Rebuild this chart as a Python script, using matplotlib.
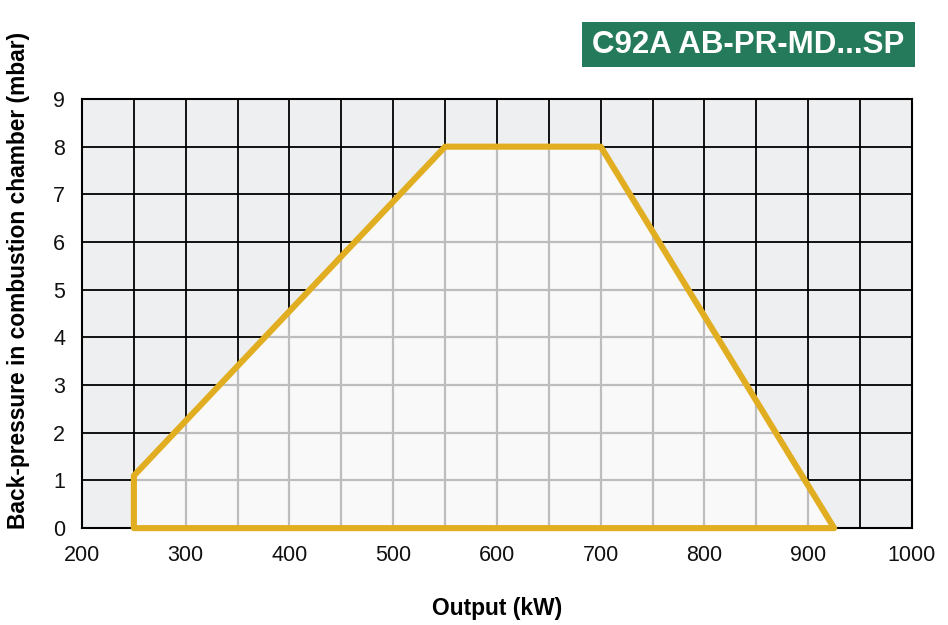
import numpy as np
import matplotlib.pyplot as plt
from matplotlib.patches import Polygon, Rectangle

plt.rcParams['font.family'] = ['Liberation Sans', 'DejaVu Sans']

# working field of the burner (kW, mbar)
output_kw = [250, 250, 550, 700, 925]
pressure_mbar = [0, 1.1, 8, 8, 0]

x_ticks = [200, 300, 400, 500, 600, 700, 800, 900, 1000]
y_ticks = [0, 1, 2, 3, 4, 5, 6, 7, 8, 9]
x_grid = np.arange(200, 1001, 50)
y_grid = np.arange(0, 10, 1)

title = "C92A AB-PR-MD...SP"

fig = plt.figure(figsize=(9.48, 6.25), dpi=100)
ax = fig.add_axes([0.0865, 0.155, 0.8755, 0.6866])
ax.set_xlim(200, 1000)
ax.set_ylim(0, 9)
ax.set_facecolor('#eeeff1')

# dark grid on the background
ax.vlines(x_grid, 0, 9, colors='black', linewidth=1.3, zorder=1)
ax.hlines(y_grid, 200, 1000, colors='black', linewidth=1.3, zorder=1)

# field fill and light grid inside it
pts = np.column_stack([output_kw, pressure_mbar])
fill = Polygon(pts, closed=True, facecolor='#f9f9f9', edgecolor='none', zorder=2)
ax.add_patch(fill)
vl = ax.vlines(x_grid, 0, 9, colors='#bdbdbd', linewidth=1.6, zorder=3)
hl = ax.hlines(y_grid, 200, 1000, colors='#bdbdbd', linewidth=1.6, zorder=3)
vl.set_clip_path(fill)
hl.set_clip_path(fill)

edge = Polygon(pts, closed=True, facecolor='none', edgecolor='#e1ad21',
               linewidth=4.4, joinstyle='round', zorder=6, clip_on=False)
ax.add_patch(edge)

ax.set_xticks(x_ticks)
ax.set_yticks(y_ticks)
ax.tick_params(length=0, labelsize=15.5, pad=12, colors='#111111')
for s in ax.spines.values():
    s.set_linewidth(1.5)
    s.set_color('black')
    s.set_zorder(5)

ax.set_xlabel("Output (kW)", fontsize=16.4, fontweight='bold')
ax.set_ylabel("Back-pressure in combustion chamber (mbar)", fontsize=16.4,
              fontweight='bold')
ax.xaxis.set_label_coords(0.5, -0.1865)
ax.yaxis.set_label_coords(-0.0771, 0.578)
ax.xaxis.label.set_va('center')
ax.yaxis.label.set_va('center')

# green title badge
fig.patches.append(Rectangle((0.614, 0.8928), 0.351, 0.072, transform=fig.transFigure,
                             facecolor='#247a5a', edgecolor='none'))
fig.text(0.7895, 0.9285, title, fontsize=22.5, fontweight='bold', color='white',
         ha='center', va='center')

fig.savefig('out.png', dpi=100)
